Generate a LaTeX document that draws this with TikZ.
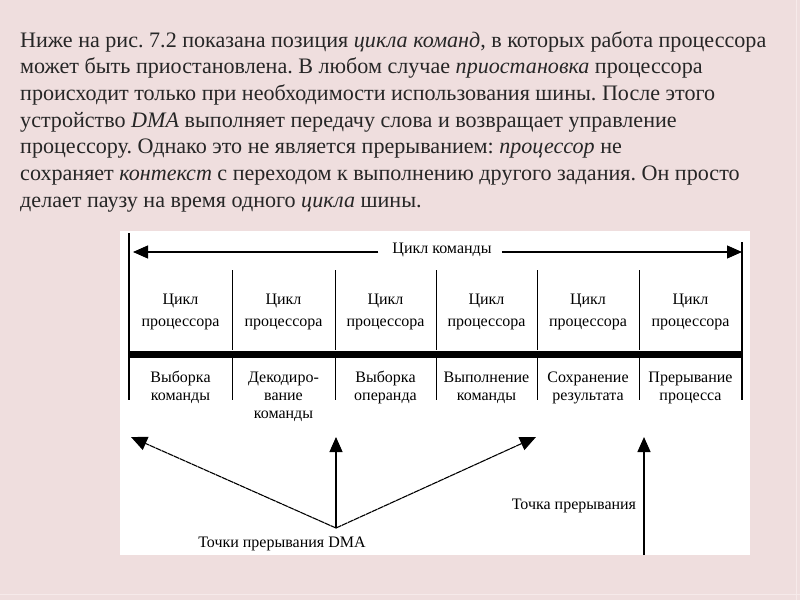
\documentclass[tikz,border=0pt]{standalone}
\usepackage{fontspec}
\setmainfont{Liberation Serif}
\usetikzlibrary{arrows.meta}
\definecolor{bgpink}{RGB}{239,222,222}
\definecolor{edgepink}{RGB}{246,234,234}
\begin{document}
\frenchspacing
\begin{tikzpicture}[x=1pt,y=-1pt,
  para/.style={anchor=base west,inner sep=0pt,font=\fontsize{22.1}{26}\selectfont,text=black!85},
  upper/.style={align=center,inner sep=0pt,font=\fontsize{16}{21.7}\selectfont},
  lower/.style={align=center,inner sep=0pt,font=\fontsize{16}{18}\selectfont},
  lbl/.style={inner sep=0pt,font=\fontsize{16}{18}\selectfont},
  frame/.style={line width=1.1pt},
  divider/.style={line width=0.9pt},
  arr/.style={line width=1.1pt,-{Triangle[length=15pt,width=13pt]}},
  slant/.style={line width=1.1pt,dash pattern=on 6pt off 0.6pt,-{Triangle[length=16pt,width=14pt]}}
]
\useasboundingbox (0,0) rectangle (800,600);
\fill[bgpink] (0,0) rectangle (800,600);
\draw[edgepink,line width=1pt] (796,0) -- (796,600);
\draw[edgepink,line width=1pt] (0,594) -- (800,594);
\fill[white] (120,231) rectangle (750,555);

% paragraph
\node[para] (p1) at (20,47) {Ниже на рис. 7.2 показана позиция \textit{цикла команд}, в которых работа процессора};
\node[para] (p2) at (20,73.7) {может быть приостановлена. В любом случае \textit{приостановка} процессора};
\node[para] (p3) at (20,100.3) {происходит только при необходимости использования шины. После этого};
\node[para] (p4) at (20,127) {устройство \textit{DMA} выполняет передачу слова и возвращает управление};
\node[para] (p5) at (20,153.7) {процессору. Однако это не является прерыванием: \textit{процессор} не};
\node[para] (p6) at (20,180.3) {сохраняет \textit{контекст} с переходом к выполнению другого задания. Он просто};
\node[para] (p7) at (20,207) {делает паузу на время одного \textit{цикла} шины.};

% frame lines
\draw[frame] (129,233) -- (129,400);
\draw[frame] (742,242) -- (742,400);

% instruction cycle arrow
\node[lbl] (ic) at (442,250) {Цикл команды};
\coordinate (icl) at (133,252);
\coordinate (icr) at (742,252);
\draw[arr] (ic.west |- icl) ++(-14,0) -- (icl);
\draw[arr] (ic.east |- icr) ++(10,0) -- (icr);

% thick bus bar
\draw[line width=7pt] (129,354) -- (742,354);

% dividers
\foreach \x in {232,335,436,537,639}{
  \draw[divider] (\x,270) -- (\x,350);
  \draw[divider] (\x,358) -- (\x,400);
}

% upper texts
\node[upper] (u1) at (180.5,311.5) {\strut Цикл\\\strut процессора};
\node[upper] (u2) at (283.5,311.5) {\strut Цикл\\\strut процессора};
\node[upper] (u3) at (385.5,311.5) {\strut Цикл\\\strut процессора};
\node[upper] (u4) at (486.5,311.5) {\strut Цикл\\\strut процессора};
\node[upper] (u5) at (588,311.5) {\strut Цикл\\\strut процессора};
\node[upper] (u6) at (690.5,311.5) {\strut Цикл\\\strut процессора};

% lower texts
\node[lower] (l1) at (180.5,387.4) {\strut Выборка\\\strut команды};
\node[lower] (l2) at (283.5,396.4) {\strut Декодиро-\\\strut вание\\\strut команды};
\node[lower] (l3) at (385.5,387.4) {\strut Выборка\\\strut операнда};
\node[lower] (l4) at (486.5,387.4) {\strut Выполнение\\\strut команды};
\node[lower] (l5) at (588,387.4) {\strut Сохранение\\\strut результата};
\node[lower] (l6) at (690.5,387.4) {\strut Прерывание\\\strut процесса};

% DMA breakpoints
\coordinate (apex) at (336,528);
\coordinate (t1) at (131,437);
\coordinate (t2) at (336,437);
\coordinate (t3) at (536,437);
\draw[slant] (apex) -- (t1);
\draw[arr] (apex) -- (t2);
\draw[slant] (apex) -- (t3);
\node[lbl] (dma) at (282,544) {Точки прерывания DMA};

% interrupt point
\coordinate (ib) at (644,555);
\coordinate (it) at (644,437);
\draw[arr,line width=1.4pt] (ib) -- (it);
\node[lbl] (ip) at (574,506) {Точка прерывания};
\end{tikzpicture}
\end{document}
